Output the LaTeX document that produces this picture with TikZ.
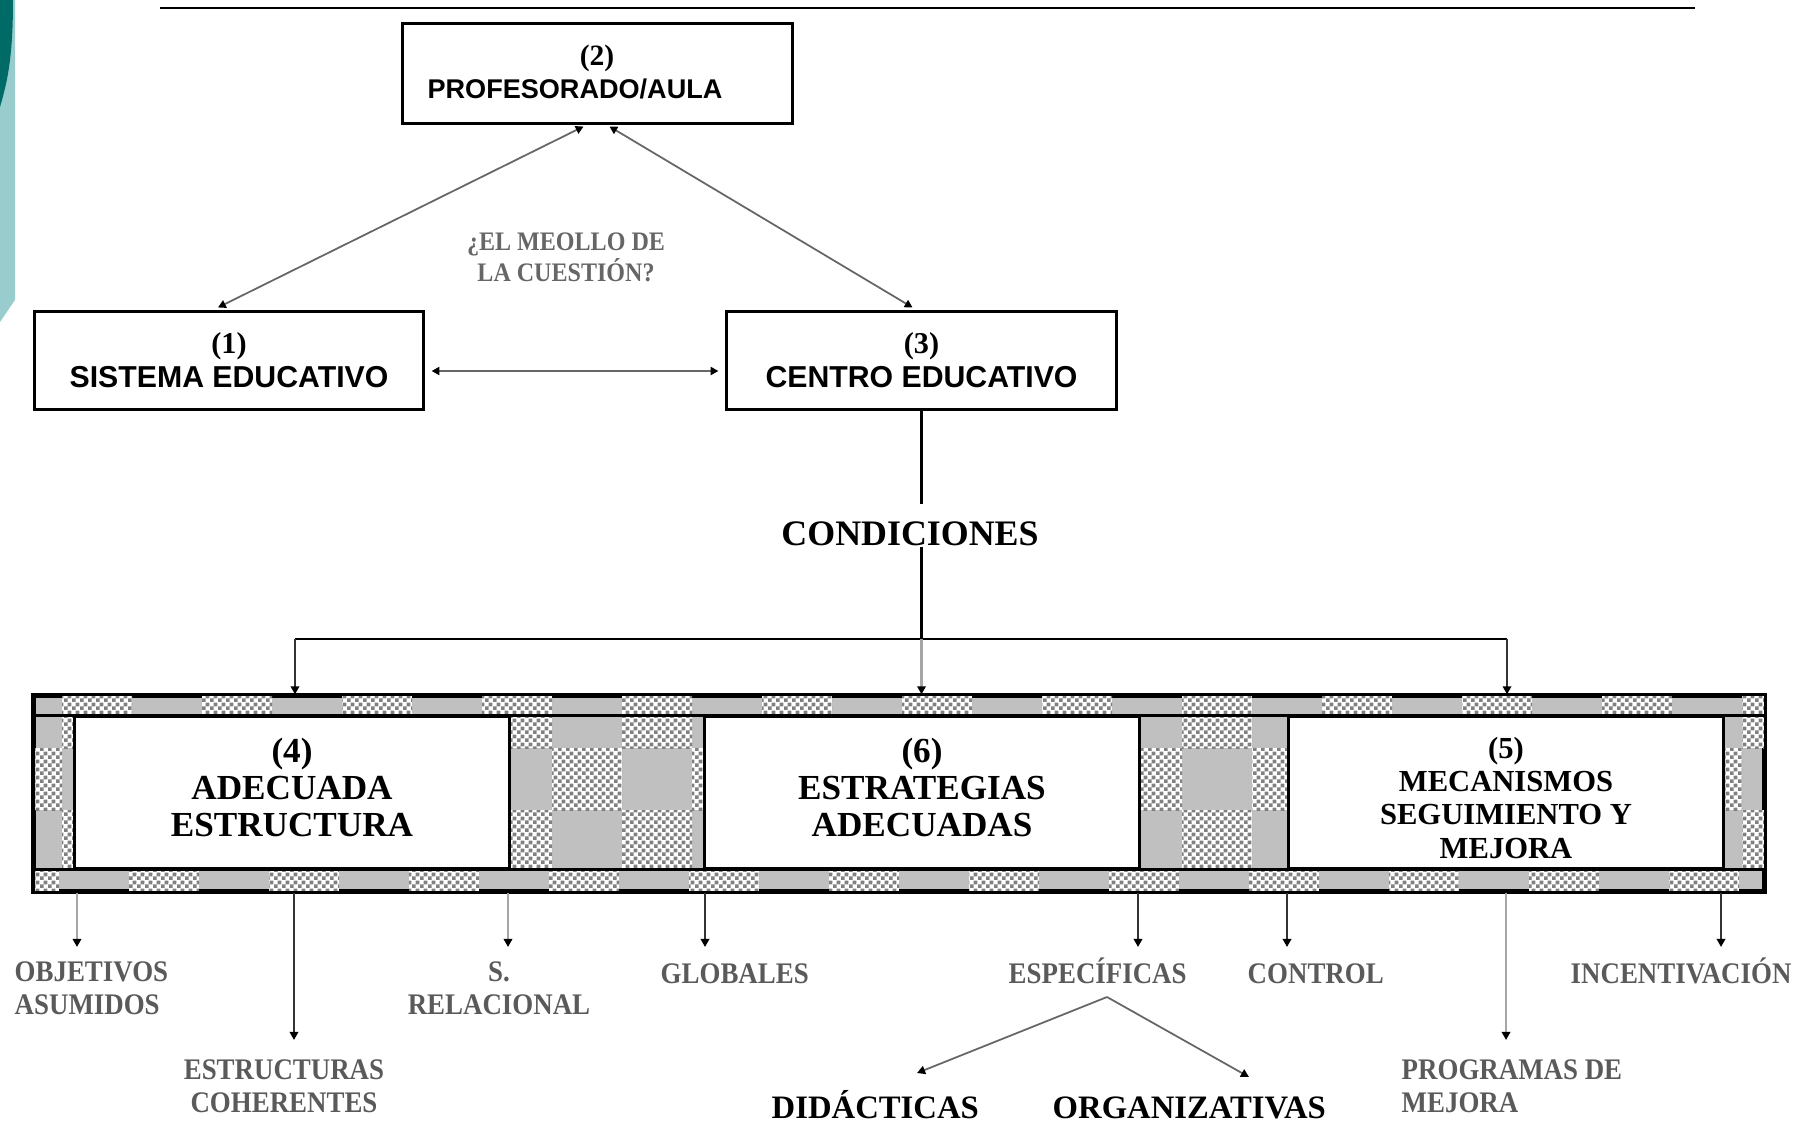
\documentclass[tikz,border=0pt]{standalone}
\usepackage{fontspec}
\setmainfont{Liberation Serif}
\newfontfamily\boxsans{Liberation Sans}
\newfontfamily\narrowserif{Liberation Serif}[FakeStretch=0.9]
\usetikzlibrary{arrows.meta,calc,patterns.meta}

\definecolor{tealdark}{HTML}{006B66}
\definecolor{teallight}{HTML}{99CCCC}
\definecolor{bandgray}{HTML}{C0C0C0}
\definecolor{checkgray}{HTML}{808080}
\definecolor{labelgray}{HTML}{5A5A5A}

% fine two-tone checker used in the frame
\tikzdeclarepattern{
  name=finecheck,
  bottom left={(0pt,0pt)},
  top right={(2.3pt,2.3pt)},
  tile size={(2.3pt,2.3pt)},
  code={
    \fill (0pt,0pt) rectangle (1.15pt,1.15pt);
    \fill (1.15pt,1.15pt) rectangle (2.3pt,2.3pt);
  }
}

\tikzset{
  topbox/.style={draw, line width=0.85pt, inner sep=0pt, align=center},
  bandbox/.style={draw, fill=white, line width=0.85pt, minimum width=4.34cm,
    minimum height=1.51cm, inner sep=0pt},
  bandtext/.style={inner sep=0pt, align=center,
    font=\bfseries\fontsize{10}{10.6}\selectfont},
  chk/.style={fill=white, postaction={pattern=finecheck, pattern color=checkgray}},
  onetip/.style={-{Triangle[length=2.3pt,width=2.4pt,color=black]}},
  twotip/.style={{Triangle[length=2.2pt,width=2.3pt,color=black]}-{Triangle[length=2.2pt,width=2.3pt,color=black]}},
  thinlink/.style={twotip, line width=0.5pt, draw=black!60},
  trunk/.style={line width=0.85pt},
  drop/.style={onetip, line width=0.7pt, draw=black!80},
  droplight/.style={onetip, line width=0.7pt, draw=black!35},
  splitline/.style={onetip, line width=0.5pt, draw=black!60},
  lbl/.style={inner sep=0pt, text=labelgray,
    font=\narrowserif\bfseries\fontsize{8.5}{9.4}\selectfont},
  biglbl/.style={inner sep=0pt, font=\bfseries\fontsize{9.3}{10}\selectfont},
}

\begin{document}
\begin{tikzpicture}[x=0.01cm, y=-0.01cm]
\useasboundingbox (0,0) rectangle (1813,1122);

% slide ornament on the left edge
\fill[teallight] (0,0) -- (15,0) -- (15,300) -- (0,322) -- cycle;
\fill[tealdark] (0,0) -- (13,0) .. controls (13,55) and (8,80) .. (0,107) -- cycle;

% rule along the top
\draw[line width=0.75pt] (160,8) -- (1695,8);

% upper triangle of actors
\node[topbox, minimum width=3.89cm, minimum height=0.99cm] (prof) at (597.5,73.5) {};
\node[inner sep=0pt, font=\bfseries\fontsize{8.4}{9}\selectfont] (profnum) at (597,58) {(2)};
\node[inner sep=0pt, font=\boxsans\bfseries\fontsize{7.7}{9}\selectfont] (proftxt) at (575,89) {PROFESORADO/AULA};

\node[topbox, minimum width=3.88cm, minimum height=0.97cm,
      font=\boxsans\bfseries\fontsize{8.6}{9.7}\selectfont] (sist) at (229,360.5)
      {{\rmfamily(1)}\\SISTEMA EDUCATIVO};
\node[topbox, minimum width=3.89cm, minimum height=0.97cm,
      font=\boxsans\bfseries\fontsize{8.6}{9.7}\selectfont] (centro) at (921.5,360.5)
      {{\rmfamily(3)}\\CENTRO EDUCATIVO};

\draw[thinlink] ($(prof.south)+(-14,2)$) -- ($(sist.north)+(-11,-3)$);
\draw[thinlink] ($(prof.south)+(12,2)$) -- ($(centro.north)+(-9,-3)$);
\draw[thinlink, shorten <=2pt, shorten >=2pt] ($(sist.east)+(0,10.5)$) -- ($(centro.west)+(0,10.5)$);

\node[inner sep=0pt, align=center, text=black!60,
      font=\narrowserif\bfseries\fontsize{7.6}{8.8}\selectfont] (meollo) at (566,257)
      {¿EL MEOLLO DE\\LA CUESTIÓN?};

% conditions trunk
\node[inner sep=0pt, font=\bfseries\fontsize{10.2}{11}\selectfont] (cond) at (910,534) {CONDICIONES};
\coordinate (hubL) at (295,639);
\coordinate (hubR) at (1507,639);
\coordinate (hubM) at (centro.south |- hubL);
\draw[trunk, shorten >=17*0.01cm] (centro.south) -- (cond.north -| centro.south);
\draw[trunk] (cond.south -| centro.south) -- (hubM);
\draw[trunk] (hubL) -- (hubR);

% frame holding the three conditions
\node[draw, fill=bandgray, line width=0.9pt, minimum width=17.28cm, minimum height=1.95cm,
      inner sep=0pt] (band) at (899,793.5) {};
\begin{scope}
  \clip (band.north west) rectangle (band.south east);
  \foreach \k in {-1,...,12}{
    \path[chk] ({62+140*\k},696) rectangle ({132+140*\k},717);
    \path[chk] ({62+140*\k},717) rectangle ({132+140*\k},748);
    \path[chk] ({132+140*\k},748) rectangle ({202+140*\k},810);
    \path[chk] ({62+140*\k},810) rectangle ({132+140*\k},868);
    \path[chk] ({129+140*\k},868) rectangle ({199+140*\k},891);
  }
\end{scope}

\node[bandbox] (b4) at (292,792.5) {};
\node[bandbox] (b6) at (922,792.5) {};
\node[bandbox] (b5) at (1506,792.5) {};
\node[bandtext] (b4t) at (292,787.5) {(4)\\ADECUADA\\ESTRUCTURA};
\node[bandtext] (b6t) at (922,787.5) {(6)\\ESTRATEGIAS\\ADECUADAS};
\node[bandtext, font=\bfseries\fontsize{8.7}{9.4}\selectfont] (b5t) at (1506,798)
      {(5)\\MECANISMOS\\SEGUIMIENTO Y\\MEJORA};

\draw[line width=0.85pt] (band.west |- b4.north) -- (band.east |- b4.north);
\draw[line width=0.85pt] (band.west |- b4.south) -- (band.east |- b4.south);
\draw[line width=0.9pt] (band.north west) rectangle (band.south east);

\draw[drop] (hubL) -- (hubL |- band.north);
\draw[droplight] (hubM) -- (hubM |- band.north);
\draw[drop] (hubR) -- (hubR |- band.north);

% outcomes below the frame
\coordinate (tObj) at (77,947);
\coordinate (tEst) at (294,1040);
\coordinate (tRel) at (508,947);
\coordinate (tGlo) at (705,947);
\coordinate (tEsp) at (1138,947);
\coordinate (tCon) at (1287,947);
\coordinate (tPro) at (1506,1040);
\coordinate (tInc) at (1721,947);

\draw[droplight] (tObj |- band.south) -- (tObj);
\draw[drop] (tEst |- band.south) -- (tEst);
\draw[droplight] (tRel |- band.south) -- (tRel);
\draw[drop] (tGlo |- band.south) -- (tGlo);
\draw[drop] (tEsp |- band.south) -- (tEsp);
\draw[drop] (tCon |- band.south) -- (tCon);
\draw[droplight] (tPro |- band.south) -- (tPro);
\draw[drop] (tInc |- band.south) -- (tInc);

\node[lbl, anchor=north west, align=left] (obj) at (14,961) {OBJETIVOS\\ASUMIDOS};
\node[lbl, anchor=north, align=center] (est) at (284,1059) {ESTRUCTURAS\\COHERENTES};
\node[lbl, anchor=north, align=center] (rel) at (499,961) {S.\\RELACIONAL};
\node[lbl, anchor=base west] (glo) at (660,983) {GLOBALES};
\node[lbl, anchor=base west] (esp) at (1008,983) {ESPECÍFICAS};
\node[lbl, anchor=base west] (con) at (1247,983) {CONTROL};
\node[lbl, anchor=base west] (inc) at (1570,983) {INCENTIVACIÓN};
\node[lbl, anchor=north west, align=left] (pro) at (1401,1059) {PROGRAMAS DE\\MEJORA};

% split of the specific strategies
\coordinate (apex) at (1107,997);
\coordinate (tDid) at (917,1073);
\coordinate (tOrg) at (1249,1077);
\draw[splitline] (apex) -- (tDid);
\draw[splitline] (apex) -- (tOrg);
\node[biglbl, anchor=base west] (did) at (771,1118) {DIDÁCTICAS};
\node[biglbl, anchor=base west] (org) at (1052,1118) {ORGANIZATIVAS};
\end{tikzpicture}
\end{document}
